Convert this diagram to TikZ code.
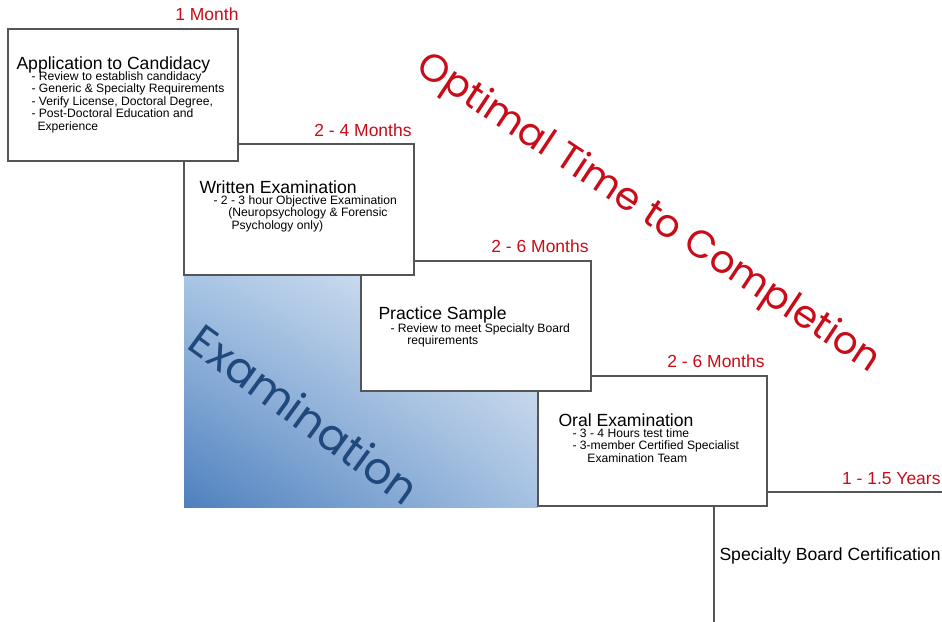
\documentclass[tikz,border=0pt]{standalone}
\usepackage{fontspec}
\setmainfont{Liberation Sans}
\newfontfamily\gothicfont{Poppins}
\usetikzlibrary{shadings}
\definecolor{labelred}{RGB}{202,12,24}
\definecolor{examblue}{RGB}{31,73,125}
\definecolor{boxgray}{RGB}{85,85,85}
\definecolor{gradlowleft}{RGB}{78,128,190}
\definecolor{gradupleft}{RGB}{168,197,229}
\definecolor{gradupright}{RGB}{232,238,246}
\definecolor{gradlowright}{RGB}{165,193,226}
\newcommand\notelines[1]{\begin{tabular}[t]{@{}l@{}}#1\end{tabular}}

\tikzset{every picture/.style={line width=0.75pt}}
\tikzset{
  stagebox/.style={draw=boxgray,line width=1.2pt,fill=white},
  stagetitle/.style={anchor=base west,inner sep=0pt,font=\fontsize{13.2}{15}\selectfont},
  stagenote/.style={anchor=base west,inner sep=0pt,font=\fontsize{9.1}{9.3}\selectfont},
  timelabel/.style={anchor=base east,inner sep=0pt,text=labelred,font=\fontsize{13.1}{15}\selectfont},
  bigword/.style={anchor=center,inner sep=0pt,font=\gothicfont\fontsize{#1}{#1}\selectfont},
}

\begin{document}
\begin{tikzpicture}[x=0.75pt,y=0.75pt,yscale=-1,xscale=1]
\useasboundingbox (0,0) rectangle (942,621);
\clip (0,0) rectangle (942,621);
\fill [white] (0,0) rectangle (942,621);
%Shape: Gradient Rectangle
\shade [lower left=gradlowleft,upper left=gradupleft,upper right=gradupright,lower right=gradlowright] (184,275) rectangle (538,507);
% Text Node
\draw (305,414) node (examword) [bigword=33,rotate=-36,text=examblue] {Examination};
%Shape: Rectangle (certification)
\draw [stagebox] (714,492) rectangle (962,640);
% Text Node
\draw (719,560) node (certtitle) [stagetitle] {Specialty Board Certification};
%Shape: Rectangle (oral)
\draw [stagebox] (538,376) rectangle (767,506);
% Text Node
\draw (558,426) node (oraltitle) [stagetitle] {Oral Examination};
% Text Node
\draw (572,437) node (oralnote) [stagenote] {\notelines{- 3 - 4 Hours test time\\- 3-member Certified Specialist\\\hspace*{11.2pt}Examination Team}};
%Shape: Rectangle (practice)
\draw [stagebox] (361,261) rectangle (591,391);
% Text Node
\draw (378,319) node (practitle) [stagetitle] {Practice Sample};
% Text Node
\draw (390,332) node (pracnote) [stagenote] {\notelines{- Review to meet Specialty Board\\\hspace*{12.7pt}requirements}};
%Shape: Rectangle (written)
\draw [stagebox] (184,144) rectangle (414,275);
% Text Node
\draw (199,193) node (writtitle) [stagetitle] {Written Examination};
% Text Node
\draw (213,204) node (writnote) [stagenote] {\notelines{- 2 - 3 hour Objective Examination\\\hspace*{11.2pt}(Neuropsychology \& Forensic\\\hspace*{13.5pt}Psychology only)}};
%Shape: Rectangle (application)
\draw [stagebox] (8,29) rectangle (238,161);
% Text Node
\draw (16,69) node (apptitle) [stagetitle] {Application to Candidacy};
% Text Node
\draw (31,80) node (appnote) [stagenote] {\notelines{- Review to establish candidacy\\- Generic \& Specialty Requirements\\- Verify License, Doctoral Degree,\\- Post-Doctoral Education and\\\hspace*{4.5pt}Experience}};
% Text Node
\draw (239,21) node (applabel) [timelabel] {1 Month};
% Text Node
\draw (412,136) node (writlabel) [timelabel] {2 - 4 Months};
% Text Node
\draw (589,252) node (praclabel) [timelabel] {2 - 6 Months};
% Text Node
\draw (765,367) node (orallabel) [timelabel] {2 - 6 Months};
% Text Node
\draw (941,484) node (certlabel) [timelabel] {1 - 1.5 Years};
% Text Node
\draw (648,214) node (timeword) [bigword=29,rotate=-33.5,text=labelred] {Optimal Time to Completion};
\end{tikzpicture}
\end{document}
